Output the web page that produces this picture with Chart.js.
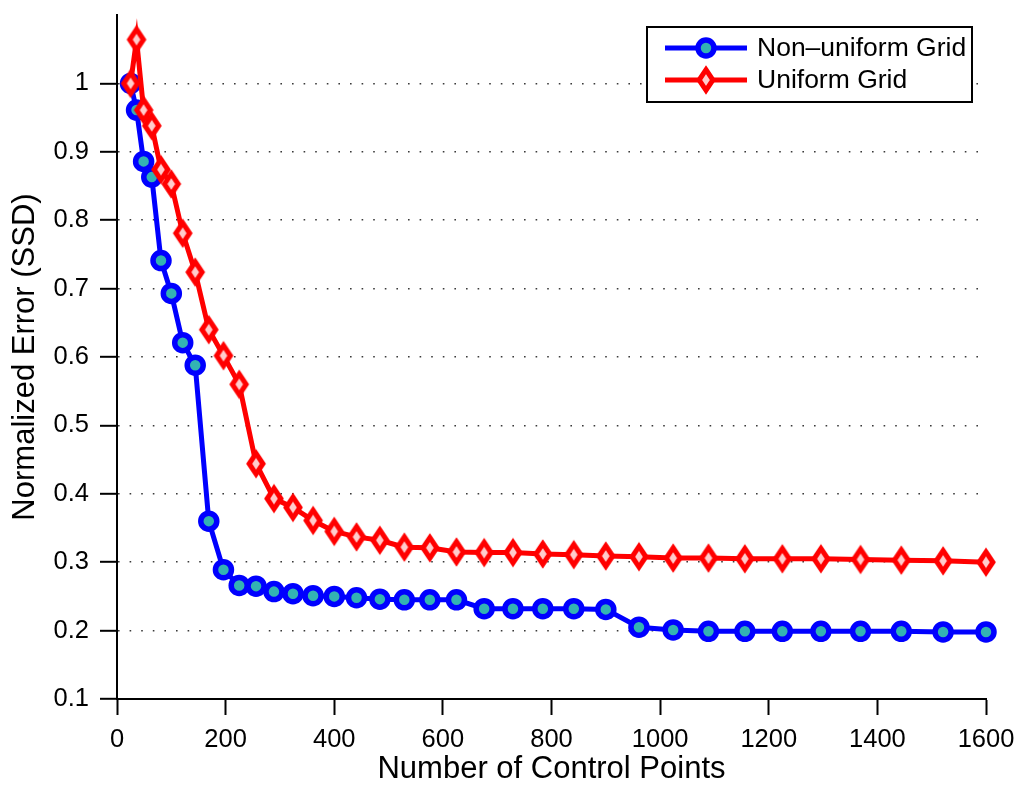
<!DOCTYPE html>
<html>
<head>
<meta charset="utf-8">
<script src="https://cdn.jsdelivr.net/npm/chart.js@4.4.1/dist/chart.umd.min.js"></script>
<style>
  html, body { margin: 0; padding: 0; background: #ffffff; }
  #wrap { width: 1018px; height: 787px; }
</style>
</head>
<body>
<div id="wrap"><canvas id="errChart" width="1018" height="787"></canvas></div>
<script>
// Number of control points (grid sizes 5x5 ... 40x40)
const controlPoints = [25, 36, 49, 64, 81, 100, 121, 144, 169, 196, 225, 256, 289, 324, 361, 400,
  441, 484, 529, 576, 625, 676, 729, 784, 841, 900, 961, 1024, 1089, 1156, 1225, 1296, 1369,
  1444, 1521, 1600];

// Normalized SSD error for each grid type
const nonUniformError = [1.000, 0.961, 0.886, 0.863, 0.741, 0.693, 0.621, 0.588, 0.360, 0.289,
  0.266, 0.265, 0.257, 0.254, 0.251, 0.250, 0.248, 0.246, 0.245, 0.245, 0.245, 0.232, 0.232,
  0.232, 0.232, 0.231, 0.205, 0.201, 0.199, 0.199, 0.199, 0.199, 0.199, 0.199, 0.198, 0.198];
const uniformError = [1.000, 1.064, 0.961, 0.938, 0.874, 0.853, 0.781, 0.724, 0.640, 0.602,
  0.560, 0.444, 0.393, 0.380, 0.361, 0.345, 0.337, 0.332, 0.322, 0.321, 0.315, 0.314, 0.314,
  0.312, 0.311, 0.309, 0.308, 0.306, 0.306, 0.305, 0.305, 0.305, 0.304, 0.303, 0.302, 0.300];

const seriesNames = ['Non\u2013uniform Grid', 'Uniform Grid'];
const xTicks = [0, 200, 400, 600, 800, 1000, 1200, 1400, 1600];
const yTicks = [0.1, 0.2, 0.3, 0.4, 0.5, 0.6, 0.7, 0.8, 0.9, 1];
const xTitle = 'Number of Control Points';
const yTitle = 'Normalized Error (SSD)';

const FONT = '"Liberation Sans", Arial, Helvetica, sans-serif';
const BLUE = '#0000ff';
const TEAL = 'rgb(51,179,179)';
const RED = '#ff0000';
const PINK = '#ffcccc';

// Tall diamond marker used for the uniform-grid series
function diamondMarker(fill, stroke) {
  const c = document.createElement('canvas');
  c.width = 28; c.height = 36;
  const g = c.getContext('2d');
  g.translate(14, 18);
  g.beginPath();
  g.moveTo(0, -10.3); g.lineTo(6.9, 0); g.lineTo(0, 10.3); g.lineTo(-6.9, 0);
  g.closePath();
  g.fillStyle = fill; g.fill();
  g.lineWidth = 5; g.lineJoin = 'miter'; g.miterLimit = 10;
  g.strokeStyle = stroke; g.stroke();
  return c;
}
const diamond = diamondMarker(PINK, RED);

const toXY = (ys) => controlPoints.map((x, i) => ({ x: x, y: ys[i] }));

// Keep the plot box fixed: drop the extra room Chart.js reserves for edge labels
const noEdgePadding = (axis) => {
  axis.paddingTop = 0; axis.paddingBottom = 0;
  axis.paddingLeft = 0; axis.paddingRight = 0;
};

// Boxed legend with a line sample through each marker
const boxedLegend = {
  id: 'boxedLegend',
  afterDatasetsDraw(chart) {
    const ctx = chart.ctx;
    const bx = 647, by = 27, bw = 325, bh = 75;
    ctx.save();
    ctx.fillStyle = '#ffffff';
    ctx.fillRect(bx, by, bw, bh);
    ctx.lineWidth = 2;
    ctx.strokeStyle = '#000000';
    ctx.strokeRect(bx, by, bw, bh);
    chart.data.datasets.forEach((ds, i) => {
      const y = 48 + i * 32;
      ctx.beginPath();
      ctx.moveTo(665, y); ctx.lineTo(747, y);
      ctx.lineWidth = ds.borderWidth;
      ctx.strokeStyle = ds.borderColor;
      ctx.stroke();
      if (ds.pointStyle === 'circle') {
        ctx.beginPath();
        ctx.arc(706, y, ds.pointRadius, 0, Math.PI * 2);
        ctx.fillStyle = ds.pointBackgroundColor;
        ctx.fill();
        ctx.lineWidth = ds.pointBorderWidth;
        ctx.strokeStyle = ds.pointBorderColor;
        ctx.stroke();
      } else {
        const img = ds.pointStyle;
        ctx.drawImage(img, 706 - img.width / 2, y - img.height / 2);
      }
      ctx.fillStyle = '#000000';
      ctx.font = '26.5px ' + FONT;
      ctx.textBaseline = 'middle';
      ctx.textAlign = 'left';
      ctx.fillText(ds.label, 757, y + 1);
    });
    ctx.restore();
  }
};

new Chart(document.getElementById('errChart'), {
  type: 'line',
  data: {
    datasets: [
      {
        label: seriesNames[0],
        data: toXY(nonUniformError),
        borderColor: BLUE,
        borderWidth: 5,
        pointStyle: 'circle',
        pointRadius: 8,
        pointBorderWidth: 5.5,
        pointBackgroundColor: TEAL,
        pointBorderColor: BLUE,
        tension: 0,
        order: 2,
        clip: false
      },
      {
        label: seriesNames[1],
        data: toXY(uniformError),
        borderColor: RED,
        borderWidth: 5,
        pointStyle: diamond,
        pointRadius: 10,
        pointBorderWidth: 0,
        pointBackgroundColor: PINK,
        pointBorderColor: RED,
        tension: 0,
        order: 1,
        clip: false
      }
    ]
  },
  options: {
    responsive: false,
    devicePixelRatio: 1,
    animation: false,
    layout: { padding: { left: 0, top: 15, right: 32, bottom: 0 } },
    plugins: {
      legend: { display: false },
      tooltip: { enabled: false },
      title: { display: false }
    },
    scales: {
      x: {
        type: 'linear',
        min: 0,
        max: 1600,
        afterBuildTicks: (axis) => { axis.ticks = xTicks.map(v => ({ value: v })); },
        afterFit: (axis) => { axis.height = 88; noEdgePadding(axis); },
        ticks: {
          color: '#000000',
          font: { family: FONT, size: 25.5 },
          padding: 10,
          maxRotation: 0,
          callback: (v) => String(v)
        },
        grid: {
          drawOnChartArea: false,
          drawTicks: true,
          tickLength: 16,
          tickColor: '#000000',
          tickWidth: 2
        },
        border: { display: true, color: '#000000', width: 2 },
        title: {
          display: true,
          text: xTitle,
          color: '#000000',
          font: { family: FONT, size: 31, lineHeight: 1 },
          padding: { top: 0, bottom: 2 }
        }
      },
      y: {
        type: 'linear',
        min: 0.1,
        max: 1.1,
        afterBuildTicks: (axis) => { axis.ticks = yTicks.map(v => ({ value: v })); },
        afterFit: (axis) => { axis.width = 117; noEdgePadding(axis); },
        ticks: {
          color: '#000000',
          font: { family: FONT, size: 25.5 },
          padding: 11,
          callback: (v) => String(Number(v.toFixed(2)))
        },
        grid: {
          drawOnChartArea: true,
          drawTicks: true,
          color: '#3a3a3a',
          lineWidth: 1.6,
          tickLength: 17,
          tickColor: '#000000',
          tickWidth: 2,
          tickBorderDash: []
        },
        border: { display: true, color: '#000000', width: 2, dash: [1.6, 10] },
        title: {
          display: true,
          text: yTitle,
          color: '#000000',
          font: { family: FONT, size: 31, lineHeight: 1 },
          padding: { top: 10, bottom: 0 }
        }
      }
    }
  },
  plugins: [boxedLegend]
});
</script>
</body>
</html>
